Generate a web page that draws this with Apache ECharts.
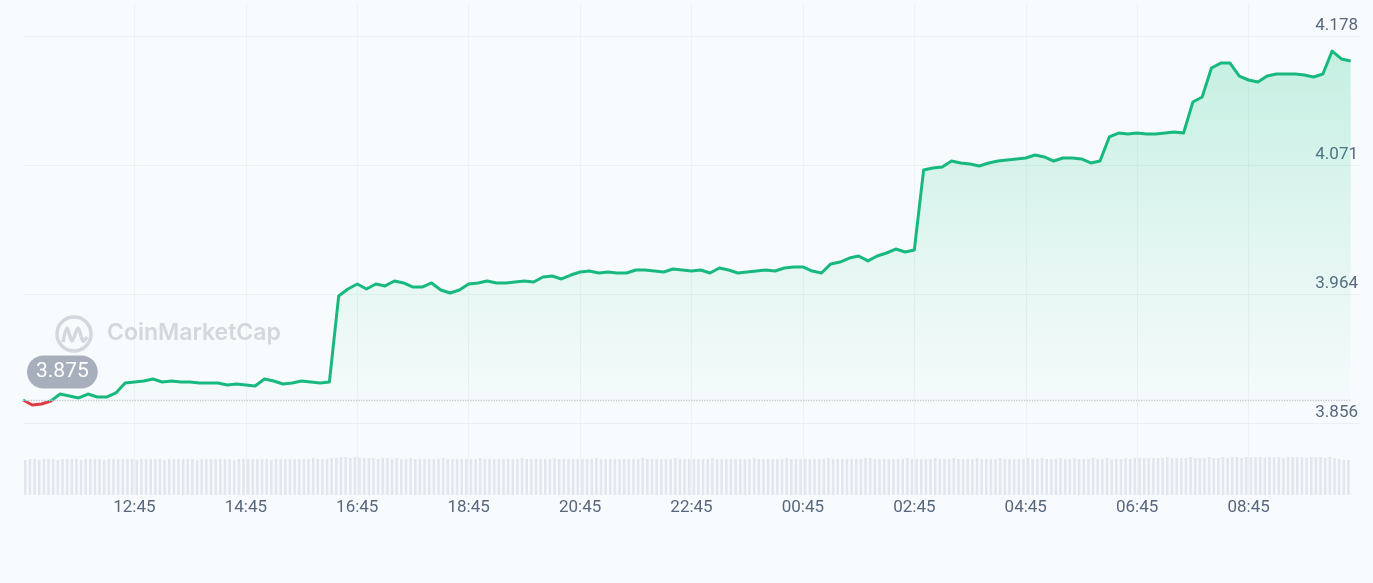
<!DOCTYPE html>
<html>
<head>
<meta charset="utf-8">
<title>Price chart</title>
<script src="https://cdn.jsdelivr.net/npm/echarts@6/dist/echarts.min.js"></script>
<style>
  html, body { margin: 0; padding: 0; background: #f8fbfd; }
  #chart { width: 1373px; height: 583px; }
</style>
</head>
<body>
<div id="chart"></div>
<script>
// price every 10 minutes, starting 10:45
const startLabel = '10:45'
const stepMinutes = 10
const openPrice = 3.875

const prices = [
  3.8754, 3.8713, 3.8721, 3.8746, 3.8804, 3.8788, 3.8771, 3.8804, 3.8779, 3.8779,
  3.8813, 3.8896, 3.8904, 3.8912, 3.8929, 3.8904, 3.8912, 3.8904, 3.8904, 3.8896,
  3.8896, 3.8896, 3.8879, 3.8887, 3.8879, 3.8871, 3.8929, 3.8912, 3.8887, 3.8896,
  3.8912, 3.8904, 3.8896, 3.8904, 3.9619, 3.9678, 3.9719, 3.9678, 3.9719, 3.9703,
  3.9744, 3.9728, 3.9694, 3.9694, 3.9728, 3.9669, 3.9644, 3.9669, 3.9719, 3.9728,
  3.9744, 3.9728, 3.9728, 3.9736, 3.9744, 3.9736, 3.9777, 3.9786, 3.9761, 3.9794,
  3.9819, 3.9827, 3.9811, 3.9819, 3.9811, 3.9811, 3.9836, 3.9836, 3.9827, 3.9819,
  3.9844, 3.9836, 3.9827, 3.9836, 3.9811, 3.9852, 3.9836, 3.9811, 3.9819, 3.9827,
  3.9836, 3.9827, 3.9852, 3.9861, 3.9861, 3.9827, 3.9811, 3.9886, 3.9902, 3.9935,
  3.9952, 3.9911, 3.9952, 3.9977, 4.0010, 3.9985, 4.0002, 4.0667, 4.0684, 4.0692,
  4.0742, 4.0726, 4.0717, 4.0701, 4.0726, 4.0742, 4.0751, 4.0759, 4.0767, 4.0792,
  4.0776, 4.0742, 4.0767, 4.0767, 4.0759, 4.0726, 4.0742, 4.0942, 4.0975, 4.0967,
  4.0975, 4.0967, 4.0967, 4.0975, 4.0984, 4.0975, 4.1233, 4.1275, 4.1516, 4.1557,
  4.1557, 4.1449, 4.1416, 4.1399, 4.1449, 4.1466, 4.1466, 4.1466, 4.1458, 4.1441,
  4.1466, 4.1657, 4.1591, 4.1574
]

// volume in 5 minute buckets
const volStep = 5
const volumes = [
  35, 36, 36, 35, 36, 36, 36, 35, 36, 36, 36, 36, 35, 36, 36, 36, 36, 35, 36, 36, 36, 36,
  36, 36, 35, 36, 36, 36, 36, 36, 35, 36, 36, 36, 36, 36, 36, 35, 36, 36, 36, 36, 36, 36,
  36, 35, 36, 36, 36, 36, 36, 36, 36, 35, 36, 36, 36, 36, 36, 36, 36, 36, 37, 36, 36, 36,
  37, 37, 38, 38, 37, 38, 37, 37, 37, 37, 36, 37, 37, 36, 37, 36, 36, 37, 36, 36, 36, 36,
  36, 36, 37, 36, 36, 36, 36, 36, 36, 36, 37, 36, 36, 36, 36, 36, 36, 36, 36, 37, 36, 36,
  36, 36, 36, 36, 37, 36, 36, 36, 36, 36, 36, 36, 36, 37, 36, 36, 36, 36, 36, 36, 36, 36,
  36, 37, 36, 36, 36, 36, 36, 36, 37, 36, 36, 36, 36, 36, 36, 36, 37, 36, 36, 36, 36, 36,
  36, 36, 36, 37, 36, 36, 36, 36, 36, 36, 37, 36, 36, 36, 36, 36, 36, 36, 36, 37, 36, 36,
  36, 36, 36, 36, 36, 37, 37, 36, 36, 36, 36, 36, 36, 36, 37, 36, 36, 36, 36, 36, 37, 36,
  36, 36, 37, 36, 36, 36, 36, 37, 36, 36, 36, 36, 37, 36, 36, 36, 36, 36, 37, 36, 36, 37,
  36, 36, 36, 37, 36, 36, 37, 36, 36, 36, 37, 36, 36, 37, 36, 36, 36, 37, 36, 37, 37, 37,
  37, 37, 37, 37, 38, 37, 37, 37, 37, 38, 37, 37, 37, 38, 37, 37, 38, 37, 38, 38, 37, 38,
  38, 38, 38, 37, 38, 38, 38, 37, 38, 38, 38, 38, 37, 38, 38, 38, 37, 38, 37, 36, 35, 35
]

// y axis ticks shown on the right
const yMin = 3.8563
const yMax = 4.1782
const yStep = 0.1073

const startMin = Number(startLabel.split(':')[0]) * 60 + Number(startLabel.split(':')[1])

function clock(m) {
  const t = (startMin + m) % 1440
  const h = Math.floor(t / 60)
  const mm = t % 60
  return String(h).padStart(2, '0') + ':' + String(mm).padStart(2, '0')
}

const priceData = prices.map((p, i) => [i * stepMinutes, p])
const volData = volumes.map((v, i) => [i * volStep + volStep / 2, v])

const chart = echarts.init(document.getElementById('chart'))

chart.setOption({
  backgroundColor: '#f8fbfd',
  animation: false,
  textStyle: { fontFamily: 'Roboto, "Noto Sans", sans-serif' },
  grid: [
    { left: 23, right: 13, top: 3, bottom: 88 },
    { left: 23, right: 13, top: 36, bottom: 160 }
  ],
  xAxis: [
    {
      gridIndex: 0,
      type: 'value',
      min: 0,
      max: 1440,
      interval: 120,
      axisLine: { show: false },
      axisTick: { show: false },
      axisLabel: {
        showMinLabel: false,
        showMaxLabel: false,
        margin: 4,
        color: '#58667e',
        fontSize: 17,
        formatter: v => clock(v)
      },
      splitLine: {
        show: true,
        showMinLine: false,
        showMaxLine: false,
        lineStyle: { color: '#eef1f5', width: 1 }
      }
    },
    {
      gridIndex: 1,
      type: 'value',
      min: 0,
      max: 1440,
      show: false
    }
  ],
  yAxis: [
    {
      gridIndex: 0,
      type: 'value',
      min: 0,
      max: 492,
      show: false
    },
    {
      gridIndex: 1,
      type: 'value',
      position: 'right',
      min: yMin,
      max: yMax,
      interval: yStep,
      axisLine: { show: false },
      axisTick: { show: false },
      axisLabel: {
        inside: true,
        margin: 2,
        color: '#58667e',
        fontSize: 17,
        verticalAlign: 'bottom',
        padding: [0, 0, 2, 0],
        formatter: v => v.toFixed(3)
      },
      splitLine: {
        show: true,
        lineStyle: { color: '#eceff3', width: 1 }
      }
    }
  ],
  visualMap: {
    show: false,
    type: 'piecewise',
    seriesIndex: 1,
    dimension: 1,
    pieces: [
      { gte: 3.5, lt: openPrice, color: '#e03a44' },
      { gte: openPrice, lte: 4.5, color: '#18b97f' }
    ]
  },
  graphic: [
    {
      type: 'circle',
      z: 1,
      shape: { cx: 74, cy: 334, r: 17 },
      style: { fill: 'none', stroke: '#d3d7de', lineWidth: 3.5 }
    },
    {
      type: 'polyline',
      z: 1,
      shape: { points: [[63, 342], [67, 328], [72, 341], [78, 328], [83, 341], [87, 337]], smooth: 0.3 },
      style: { fill: 'none', stroke: '#d3d7de', lineWidth: 3.5 }
    },
    {
      type: 'text',
      z: 1,
      left: 107,
      top: 322,
      style: {
        text: 'CoinMarketCap',
        font: '600 23px Inter, Roboto, sans-serif',
        fill: '#d3d7de'
      }
    }
  ],
  series: [
    {
      name: 'Volume',
      type: 'bar',
      xAxisIndex: 0,
      yAxisIndex: 0,
      barWidth: 2.6,
      itemStyle: { color: '#e3e6ee' },
      silent: true,
      data: volData
    },
    {
      name: 'Price',
      type: 'line',
      xAxisIndex: 1,
      yAxisIndex: 1,
      showSymbol: false,
      symbol: 'none',
      lineStyle: { width: 3, join: 'round' },
      areaStyle: {
        origin: openPrice,
        color: new echarts.graphic.LinearGradient(0, 0, 0, 1, [
          { offset: 0, color: 'rgba(22,199,132,0.32)' },
          { offset: 0.6, color: 'rgba(22,199,132,0.12)' },
          { offset: 1, color: 'rgba(22,199,132,0.02)' }
        ])
      },
      markLine: {
        silent: true,
        symbol: 'none',
        lineStyle: { type: 'dotted', color: '#c3c8d1', width: 1.3 },
        label: {
          show: true,
          position: 'insideStartTop',
          distance: [4, 12],
          formatter: openPrice.toFixed(3),
          color: '#ffffff',
          fontSize: 21,
          backgroundColor: '#a8afbc',
          borderRadius: 17,
          padding: [6, 9, 6, 9]
        },
        data: [[
          { coord: [0, openPrice] },
          { coord: [priceData[priceData.length - 1][0], openPrice] }
        ]]
      },
      data: priceData
    }
  ]
})
</script>
</body>
</html>
